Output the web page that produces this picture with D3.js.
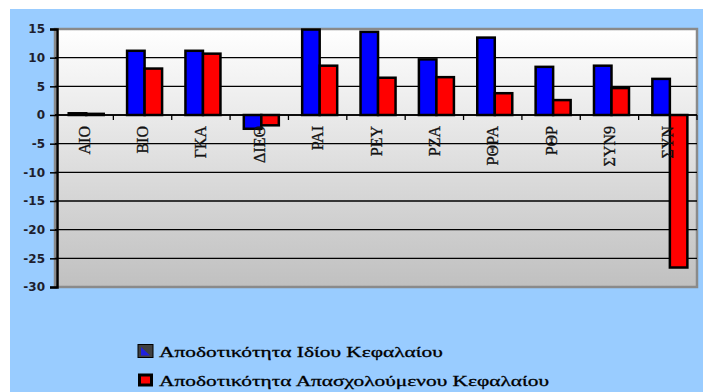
<!DOCTYPE html>
<html>
<head>
<meta charset="utf-8">
<script src="https://cdn.jsdelivr.net/npm/d3@7"></script>
<style>
  html, body { margin: 0; padding: 0; background: #ffffff; }
  svg { display: block; }
</style>
</head>
<body>
<svg id="chart" width="708" height="392"></svg>
<script>
// Company codes along the category axis
const categories = ["ΑΙΟ", "ΒΙΟ", "ΓΚΑ", "ΔΙΕΘ", "ΡΑΙ", "ΡΕΥ", "ΡΖΑ", "ΡΘΡΑ", "ΡΘΡ", "ΣΥΝ9", "ΣΥΝ"];

// Return on equity (%)
const roeValues = [0.3, 11.2, 11.2, -2.4, 14.9, 14.5, 9.7, 13.5, 8.4, 8.6, 6.3];

// Return on capital employed (%)
const roceValues = [0.2, 8.1, 10.7, -1.8, 8.6, 6.5, 6.6, 3.8, 2.6, 4.7, -26.6];

const seriesNames = ["Αποδοτικότητα Ιδίου Κεφαλαίου", "Αποδοτικότητα Απασχολούμενου Κεφαλαίου"];
const seriesColors = ["#0000ff", "#ff0000"];

const yTicks = [15, 10, 5, 0, -5, -10, -15, -20, -25, -30];

const svg = d3.select("#chart");

// Light blue chart area
svg.append("rect")
  .attr("x", 10).attr("y", 9)
  .attr("width", 693).attr("height", 383)
  .attr("fill", "#99ccff");

const plot = { left: 55, right: 697, top: 29, bottom: 287 };

const x = d3.scaleBand()
  .domain(categories)
  .range([plot.left, plot.right])
  .paddingInner(0).paddingOuter(0);

const xs = d3.scaleBand()
  .domain([0, 1])
  .range([x.bandwidth() * 0.235, x.bandwidth() * 0.835]);

const y = d3.scaleLinear()
  .domain([-30, 15])
  .range([plot.bottom, plot.top]);

// Plot background: white fading to grey
const defs = svg.append("defs");
const grad = defs.append("linearGradient")
  .attr("id", "plotGrad")
  .attr("x1", 0).attr("y1", 0).attr("x2", 0).attr("y2", 1);
grad.append("stop").attr("offset", "0%").attr("stop-color", "#ffffff");
grad.append("stop").attr("offset", "100%").attr("stop-color", "#c0c0c0");

svg.append("rect")
  .attr("x", plot.left).attr("y", plot.top)
  .attr("width", plot.right - plot.left)
  .attr("height", plot.bottom - plot.top)
  .attr("fill", "url(#plotGrad)")
  .attr("stroke", "#8a8a8a")
  .attr("stroke-width", 2.5);

// Horizontal grid lines
svg.append("g")
  .selectAll("line")
  .data(yTicks.filter(t => t < 15 && t > -30))
  .join("line")
  .attr("x1", plot.left).attr("x2", plot.right)
  .attr("y1", d => y(d)).attr("y2", d => y(d))
  .attr("stroke", "#000")
  .attr("stroke-width", 1.3);

// Bars
const groups = svg.append("g")
  .selectAll("g")
  .data(categories.map((c, i) => ({ c, vals: [roeValues[i], roceValues[i]] })))
  .join("g")
  .attr("transform", d => `translate(${x(d.c)},0)`);

groups.selectAll("rect")
  .data(d => d.vals.map((v, k) => ({ v, k })))
  .join("rect")
  .attr("x", d => xs(d.k))
  .attr("width", xs.bandwidth())
  .attr("y", d => Math.min(y(d.v), y(0)))
  .attr("height", d => Math.abs(y(d.v) - y(0)))
  .attr("fill", d => seriesColors[d.k])
  .attr("stroke", "#000")
  .attr("stroke-width", 2.5);

// Category axis along zero, ticks between categories
const boundaries = categories.map(c => x(c) + x.bandwidth());
const xAxis = svg.append("g");
xAxis.append("line")
  .attr("x1", plot.left).attr("x2", plot.right)
  .attr("y1", y(0)).attr("y2", y(0))
  .attr("stroke", "#000").attr("stroke-width", 1.5);
xAxis.selectAll("line.tick")
  .data(boundaries)
  .join("line")
  .attr("class", "tick")
  .attr("x1", d => d).attr("x2", d => d)
  .attr("y1", y(0)).attr("y2", y(0) + 5)
  .attr("stroke", "#000").attr("stroke-width", 1.3);

xAxis.selectAll("text")
  .data(categories)
  .join("text")
  .attr("transform", d => `translate(${x(d) + x.bandwidth() / 2 + 5.5},${y(0) + 11}) rotate(-90)`)
  .attr("text-anchor", "end")
  .attr("font-family", "Liberation Serif")
  .attr("font-size", 16)
  .attr("fill", "#111")
  .attr("stroke", "#111")
  .attr("stroke-width", 0.3)
  .text(d => d);

// Value axis
const yAxis = svg.append("g")
  .attr("transform", `translate(${plot.left + 2},0)`)
  .call(d3.axisLeft(y).tickValues(yTicks).tickSize(7).tickPadding(5)
    .tickFormat(d => String(d)));
yAxis.select(".domain").attr("stroke", "#000").attr("stroke-width", 2.5);
yAxis.selectAll(".tick line").attr("stroke", "#000").attr("stroke-width", 1.5);
yAxis.selectAll(".tick text")
  .attr("font-family", "'DejaVu Sans', Verdana, sans-serif")
  .attr("font-weight", "bold")
  .attr("font-size", 12)
  .attr("fill", "#1e1e2e");

// Legend
const legend = svg.append("g");
const legendRows = seriesNames.map((name, k) => ({ name, k }));
const rowY = [351, 380];

legendRows.forEach(r => {
  const g = legend.append("g").attr("transform", `translate(138,${rowY[r.k]})`);
  if (r.k === 0) {
    g.append("rect").attr("x", 0).attr("y", -6.5).attr("width", 15).attr("height", 13)
      .attr("fill", "#404040").attr("stroke", "#000").attr("stroke-width", 1);
    g.append("path").attr("d", "M3,-4 L12,4.5 L3,4.5 Z").attr("fill", "#2020e0");
  } else {
    g.append("rect").attr("x", 0).attr("y", -6.5).attr("width", 15).attr("height", 13)
      .attr("fill", "#000");
    g.append("rect").attr("x", 3).attr("y", -3.5).attr("width", 9).attr("height", 7)
      .attr("fill", seriesColors[1]);
  }
  g.append("text")
    .attr("class", "legend-label")
    .attr("font-family", "Liberation Serif")
    .attr("font-size", 15)
    .attr("fill", "#000")
    .attr("stroke", "#000")
    .attr("stroke-width", 0.3)
    .text(r.name);
});

// Legend type is set wide: stretch so the first label spans 284px
const firstLen = legend.select("text.legend-label").node().getComputedTextLength();
const stretch = 284 / firstLen;
legend.selectAll("text.legend-label")
  .attr("transform", `translate(21,5.5) scale(${stretch},1)`);
</script>
</body>
</html>
